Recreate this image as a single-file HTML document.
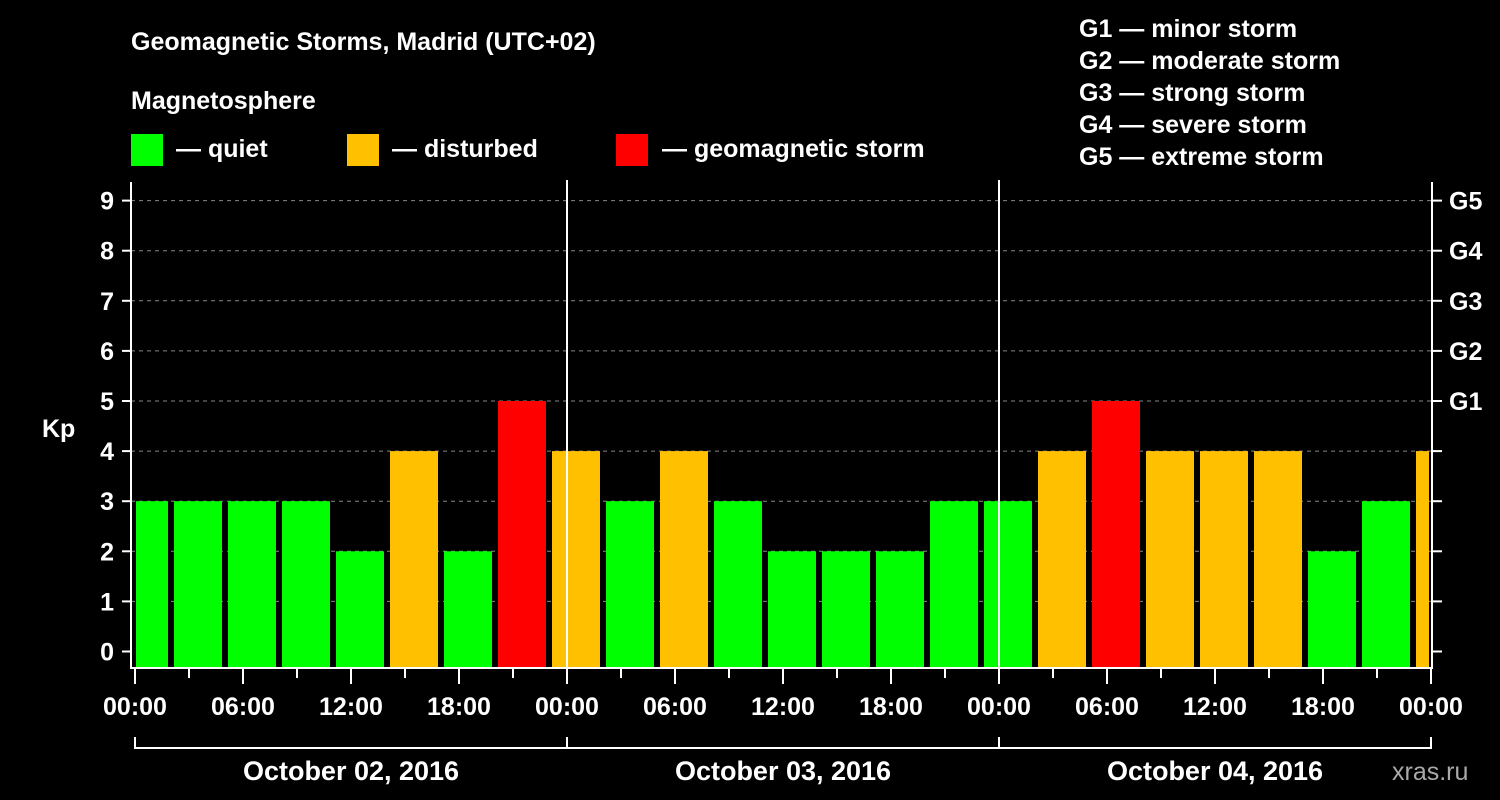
<!DOCTYPE html>
<html><head><meta charset="utf-8"><style>
html,body{margin:0;padding:0;background:#000;}
svg{display:block;font-family:"Liberation Sans",Arial,sans-serif;font-weight:bold;}
</style></head><body>
<svg id="chart" width="1500" height="800" viewBox="0 0 1500 800" xmlns="http://www.w3.org/2000/svg">
<text x="131" y="50" fill="#fff" font-size="25">Geomagnetic Storms, Madrid (UTC+02)</text>
<text x="131" y="109" fill="#fff" font-size="25">Magnetosphere</text>
<g>
<rect x="131" y="134" width="32" height="32" fill="#00ff00"/>
<text x="176" y="157" fill="#fff" font-size="25">— quiet</text>
<rect x="347" y="134" width="32" height="32" fill="#ffc000"/>
<text x="392" y="157" fill="#fff" font-size="25">— disturbed</text>
<rect x="616" y="134" width="32" height="32" fill="#ff0000"/>
<text x="662" y="157" fill="#fff" font-size="25">— geomagnetic storm</text>
</g>
<g fill="#fff" font-size="25">
<text x="1079" y="37">G1 — minor storm</text>
<text x="1079" y="69">G2 — moderate storm</text>
<text x="1079" y="101">G3 — strong storm</text>
<text x="1079" y="133">G4 — severe storm</text>
<text x="1079" y="165">G5 — extreme storm</text>
</g>
<text x="42" y="437" fill="#fff" font-size="25">Kp</text>
<text x="1392" y="780" fill="#aaa" font-size="25" font-weight="normal">xras.ru</text>
<g id="grid"></g><g id="bars"></g><g id="axes"></g>
</svg>
<script>
const kpValues=[3,3,3,3,2,4,2,5,4,3,4,3,2,2,2,3,3,4,5,4,4,4,2,3,4];
const firstBarHour=-1; // local hour of first bar start
const dayLabels=["October 02, 2016","October 03, 2016","October 04, 2016"];
const xTickLabels=["00:00","06:00","12:00","18:00"];
const yTicks=[0,1,2,3,4,5,6,7,8,9];
const gLabels=[[5,"G1"],[6,"G2"],[7,"G3"],[8,"G4"],[9,"G5"]];

const NS="http://www.w3.org/2000/svg";
const X0=135,PXH=18,DAYS=3,XEND=X0+DAYS*24*PXH;
const PL=131,PR=1432,PT=182,PB=668;
const yS=v=>651.5-v*50.1;
const xS=h=>X0+h*PXH;
function mk(tag,attrs,parent){const e=document.createElementNS(NS,tag);for(const k in attrs)e.setAttribute(k,attrs[k]);parent.appendChild(e);return e;}
const grid=document.getElementById('grid'),bars=document.getElementById('bars'),axes=document.getElementById('axes');
yTicks.forEach(v=>{if(v>0){const l=mk('line',{x1:PL,x2:PR,y1:yS(v),y2:yS(v),stroke:'#888','stroke-dasharray':'4,4','stroke-width':1},grid);

}});
kpValues.forEach((v,i)=>{
 const h=firstBarHour+i*3;
 let x1=xS(h)+3,x2=xS(h+3)-3;
 x1=Math.max(x1,136);x2=Math.min(x2,1429);
 const c=v>=5?'#ff0000':(v>=4?'#ffc000':'#00ff00');
 const r=mk('rect',{x:x1,y:yS(v),width:x2-x1,height:PB-yS(v),fill:c},bars);
 
 
});
// day separators
for(let d=1;d<DAYS;d++){const l=mk('line',{x1:xS(d*24),x2:xS(d*24),y1:180,y2:PB,stroke:'#fff','stroke-width':2},axes);

}
// frame
const fr=mk('path',{d:`M${PL},${PT} V${PB} H${PR} V${PT}`,fill:'none',stroke:'#fff','stroke-width':2},axes);


yTicks.forEach(v=>{
 mk('line',{x1:122,x2:PL,y1:yS(v),y2:yS(v),stroke:'#fff','stroke-width':2},axes);
 mk('line',{x1:PR,x2:1442,y1:yS(v),y2:yS(v),stroke:'#fff','stroke-width':2},axes);
 const t=mk('text',{x:114,y:yS(v)+9,'text-anchor':'end',fill:'#fff','font-size':25},axes);t.textContent=v;
 
 
});
gLabels.forEach(([v,s])=>{const t=mk('text',{x:1449,y:yS(v)+9,fill:'#fff','font-size':25},axes);t.textContent=s;
 
 });
for(let h=0;h<=DAYS*24;h+=3){
 const major=h%6===0;
 mk('line',{x1:xS(h),x2:xS(h),y1:PB,y2:PB+(major?16:10),stroke:'#fff','stroke-width':2},axes);
 if(major&&h<DAYS*24||h===DAYS*24){const t=mk('text',{x:xS(h),y:715,'text-anchor':'middle',fill:'#fff','font-size':25},axes);
 t.textContent=xTickLabels[(h/6)%4];
 
 }
}
const br=mk('path',{d:`M${X0},737 V748 H${XEND} V737`,fill:'none',stroke:'#fff','stroke-width':2},axes);


for(let d=0;d<DAYS;d++){
 if(d>0)mk('line',{x1:xS(d*24),x2:xS(d*24),y1:737,y2:748,stroke:'#fff','stroke-width':2},axes);
 const t=mk('text',{x:xS(d*24+12),y:780,'text-anchor':'middle',fill:'#fff','font-size':27},axes);t.textContent=dayLabels[d];
 
 
}
</script>
</body></html>
